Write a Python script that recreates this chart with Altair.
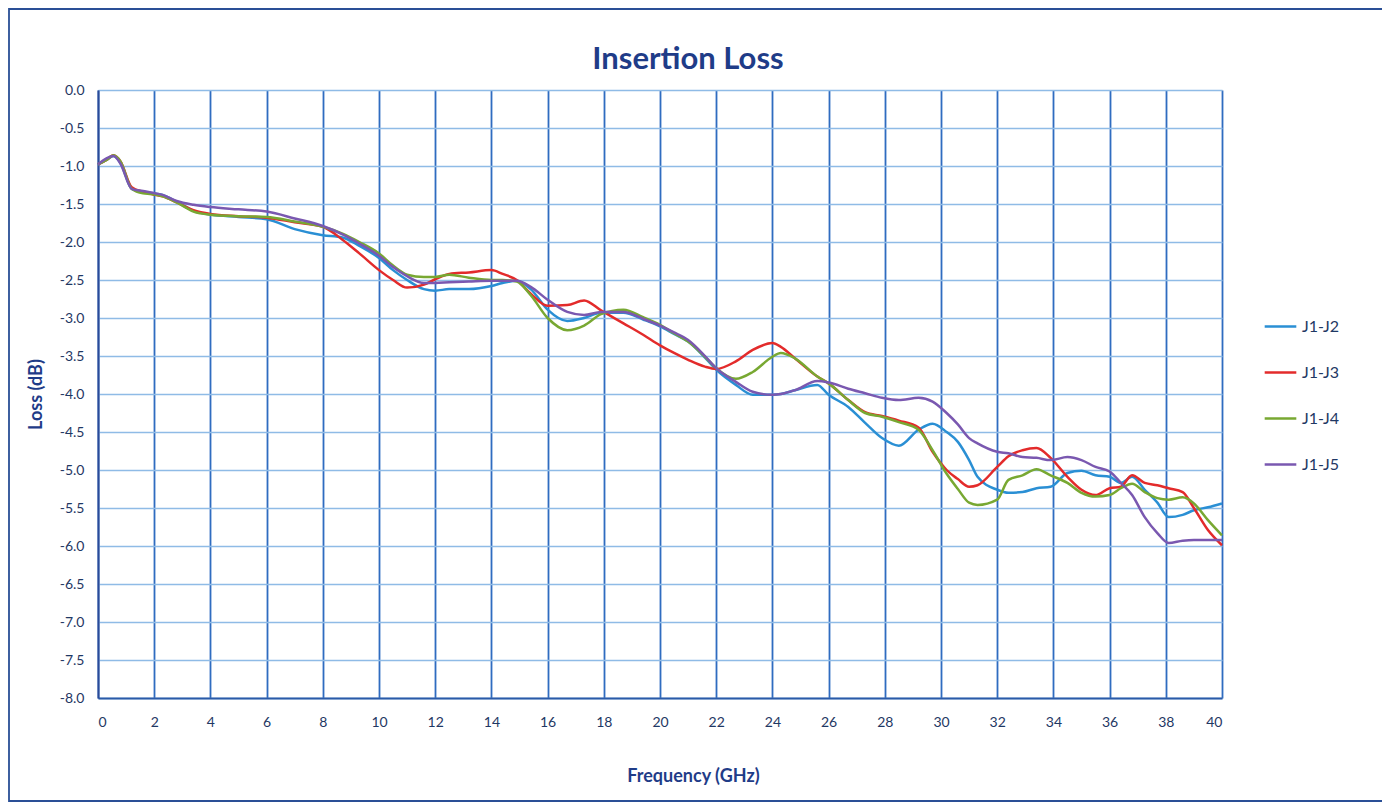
import altair as alt
import pandas as pd

freq = [0, 0.3, 0.55, 0.8, 1.2, 1.6, 1.9, 2.3, 2.8, 3.4,
        4, 5, 6, 7, 8, 8.7, 9.3, 10, 10.5, 11,
        11.6, 12, 12.5, 13.2, 14, 14.4, 14.9, 15.4, 16, 16.7,
        17.3, 17.9, 18.7, 19.4, 20, 20.5, 21, 21.6, 22, 22.7,
        23.3, 24, 24.3, 24.8, 25.6, 26, 26.7, 27.3, 27.9, 28.5,
        29.2, 29.7, 30.2, 30.6, 31, 31.3, 32, 32.4, 32.9, 33.4,
        33.9, 34.5, 35, 35.5, 36, 36.4, 36.8, 37.25, 37.7, 38.1,
        38.6, 39, 39.5, 40]

j1_j2 = [-0.98, -0.92, -0.87, -0.96, -1.30, -1.34, -1.36, -1.38, -1.47, -1.59,
         -1.64, -1.67, -1.70, -1.83, -1.91, -1.94, -2.05, -2.21, -2.37, -2.50,
         -2.62, -2.64, -2.62, -2.62, -2.58, -2.54, -2.51, -2.62, -2.89, -3.04,
         -3.00, -2.93, -2.93, -3.02, -3.11, -3.21, -3.31, -3.52, -3.68, -3.88,
         -4.01, -4.01, -4.00, -3.95, -3.88, -4.01, -4.17, -4.38, -4.58, -4.68,
         -4.47, -4.39, -4.50, -4.63, -4.87, -5.09, -5.26, -5.30, -5.29, -5.24,
         -5.22, -5.04, -5.01, -5.07, -5.09, -5.17, -5.09, -5.26, -5.43, -5.62,
         -5.59, -5.53, -5.49, -5.44]

j1_j3 = [-0.98, -0.92, -0.86, -0.94, -1.28, -1.34, -1.37, -1.40, -1.48, -1.58,
         -1.63, -1.66, -1.68, -1.74, -1.80, -1.97, -2.15, -2.37, -2.50, -2.60,
         -2.56, -2.49, -2.42, -2.40, -2.37, -2.42, -2.50, -2.68, -2.84, -2.83,
         -2.77, -2.90, -3.07, -3.22, -3.36, -3.46, -3.55, -3.64, -3.67, -3.57,
         -3.42, -3.33, -3.38, -3.53, -3.77, -3.86, -4.08, -4.24, -4.29, -4.35,
         -4.44, -4.76, -5.00, -5.12, -5.22, -5.20, -4.96, -4.82, -4.74, -4.71,
         -4.84, -5.09, -5.26, -5.33, -5.24, -5.22, -5.07, -5.17, -5.20, -5.24,
         -5.29, -5.50, -5.79, -5.99]

j1_j4 = [-0.98, -0.92, -0.86, -0.94, -1.30, -1.36, -1.37, -1.40, -1.48, -1.60,
         -1.64, -1.66, -1.67, -1.73, -1.80, -1.89, -2.00, -2.15, -2.31, -2.43,
         -2.46, -2.46, -2.43, -2.47, -2.50, -2.50, -2.52, -2.70, -3.00, -3.16,
         -3.10, -2.95, -2.89, -2.99, -3.09, -3.20, -3.31, -3.51, -3.66, -3.80,
         -3.71, -3.51, -3.46, -3.53, -3.77, -3.86, -4.08, -4.25, -4.30, -4.37,
         -4.47, -4.74, -5.05, -5.25, -5.43, -5.46, -5.39, -5.13, -5.07, -4.99,
         -5.07, -5.17, -5.30, -5.35, -5.33, -5.24, -5.18, -5.29, -5.37, -5.39,
         -5.36, -5.44, -5.66, -5.86]

j1_j5 = [-0.98, -0.90, -0.87, -0.97, -1.30, -1.33, -1.35, -1.38, -1.46, -1.51,
         -1.54, -1.57, -1.60, -1.69, -1.79, -1.90, -2.02, -2.18, -2.33, -2.45,
         -2.54, -2.54, -2.53, -2.52, -2.51, -2.51, -2.51, -2.59, -2.76, -2.92,
         -2.96, -2.92, -2.92, -3.01, -3.10, -3.19, -3.29, -3.50, -3.66, -3.84,
         -3.97, -4.01, -4.00, -3.95, -3.83, -3.85, -3.93, -3.99, -4.05, -4.08,
         -4.05, -4.10, -4.25, -4.40, -4.58, -4.65, -4.76, -4.78, -4.83, -4.84,
         -4.87, -4.83, -4.87, -4.96, -5.02, -5.17, -5.33, -5.62, -5.83, -5.96,
         -5.93, -5.92, -5.92, -5.92]

series_names = ["J1-J2", "J1-J3", "J1-J4", "J1-J5"]
series_colors = ["#2a8fd4", "#e32b2b", "#78a832", "#7a58b0"]
x_ticks = list(range(0, 41, 2))
y_ticks = [-8.0 + 0.5 * i for i in range(17)]

rows = []
for name, vals in zip(series_names, [j1_j2, j1_j3, j1_j4, j1_j5]):
    for f, v in zip(freq, vals):
        rows.append({"freq": f, "loss": v, "series": name})
df = pd.DataFrame(rows)

navy = "#1f3c88"
label_navy = "#1f3864"

frame = alt.Chart(pd.DataFrame({"k": [0]})).mark_rect(
    fill="transparent", stroke="#2a4f96", strokeWidth=1.8
).encode(
    x=alt.value(-89), x2=alt.value(1286), y=alt.value(-81), y2=alt.value(711)
)

lines = alt.Chart(df).mark_line(strokeWidth=2.5, interpolate="monotone").encode(
    x=alt.X("freq:Q",
            scale=alt.Scale(domain=[0, 40], nice=False, zero=False),
            axis=alt.Axis(values=x_ticks, title="Frequency (GHz)", format="d",
                          grid=True, gridColor="#2f6cc0", gridWidth=1.8,
                          domainColor="#2a5aa8", domainWidth=2, ticks=False,
                          labelPadding=17, labelFontSize=14, labelColor=label_navy,
                          labelFont="Lato", titleFont="Lato", titleFontSize=18,
                          titleFontWeight="bold", titleColor=navy,
                          titleX=595, titleY=78, titleBaseline="middle")),
    y=alt.Y("loss:Q",
            scale=alt.Scale(domain=[-8, 0], nice=False, zero=False),
            axis=alt.Axis(values=y_ticks, title="Loss (dB)",
                          labelExpr="datum.value < 0 ? '-' + format(-datum.value, '.1f') : format(datum.value, '.1f')",
                          grid=True, gridColor="#8fbbe6", gridWidth=1.5,
                          domainColor="#2a4a98", domainWidth=2, ticks=False,
                          labelPadding=14, labelFontSize=14, labelColor=label_navy,
                          labelFont="Lato", titleFont="Lato", titleFontSize=18,
                          titleFontWeight="bold", titleColor=navy, titlePadding=14)),
    color=alt.Color("series:N",
                    scale=alt.Scale(domain=series_names, range=series_colors),
                    legend=alt.Legend(title=None, orient="none", legendX=1165, legendY=219,
                                      symbolType="stroke", symbolSize=1000,
                                      symbolStrokeWidth=2.5, labelFontSize=16,
                                      labelFont="Lato", labelColor=label_navy,
                                      rowPadding=20, labelOffset=4)),
)

chart = alt.layer(frame, lines).properties(
    width=1124, height=608,
    title=alt.Title("Insertion Loss", fontSize=31, font="Lato", fontWeight="bold",
                    color=navy, anchor="middle", dx=28, dy=84, offset=16),
    autosize=alt.AutoSizeParams(type="none"),
    padding={"left": 90, "top": 82, "right": 160, "bottom": 104},
).configure_view(stroke="#2f66b3", strokeWidth=1.5).configure(background="white")

chart.save("out.html", embed_options={"renderer": "svg", "actions": False})
